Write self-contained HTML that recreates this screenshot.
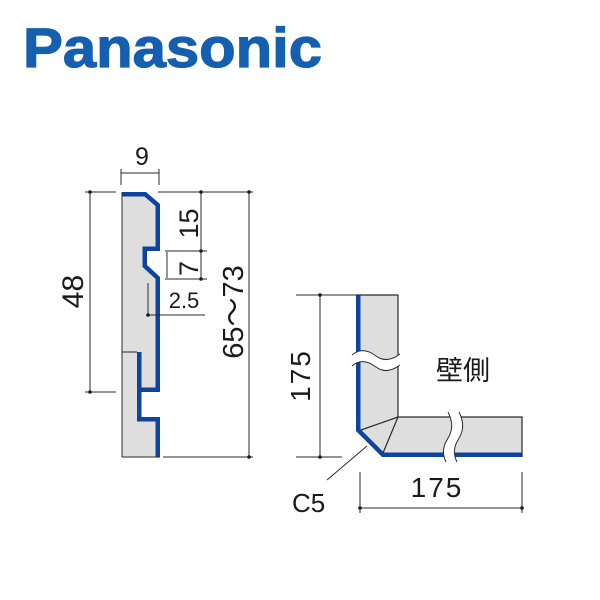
<!DOCTYPE html>
<html><head><meta charset="utf-8"><style>
html,body{margin:0;padding:0;background:#fff;}
svg{display:block;}
text{font-family:"Liberation Sans","Noto Sans CJK JP",sans-serif;fill:#1a1a1a;}
</style></head><body>
<svg width="600" height="600" viewBox="0 0 600 600" xmlns="http://www.w3.org/2000/svg">
<defs>
<clipPath id="cl"><path d="M122,192 L146,192 L160,204 L160,251 L147,251 L147,265 L160,277 L160,392 L141.5,392 L141.5,417 L160,417 L160,457 L122,457 Z"/></clipPath>
<clipPath id="cr"><path d="M356,295 L398,295 L398,417 L522,417 L522,457 L382,457 L356,431 Z"/></clipPath>
</defs>

<!-- Logo -->
<text x="23" y="67" font-size="56" font-weight="bold" textLength="299" lengthAdjust="spacingAndGlyphs" style="fill:#155fb0;stroke:#155fb0;stroke-width:1.2;">Panasonic</text>

<!-- LEFT PROFILE -->
<path d="M122,192 L146,192 L160,204 L160,251 L147,251 L147,265 L160,277 L160,392 L141.5,392 L141.5,417 L160,417 L160,457 L122,457 Z" fill="#dedede"/>
<g clip-path="url(#cl)">
<path d="M120,192 L146,192 L160,204 L160,251 L147,251 L147,265 L160,277 L160,392 L141.5,392 L141.5,417 L160,417 L160,460" fill="none" stroke="#0b459f" stroke-width="9" stroke-linejoin="miter"/>
</g>
<rect x="137" y="352" width="4.5" height="42" fill="#0b459f"/>
<g stroke="#2a2a2a" stroke-width="1" fill="none">
<line x1="122" y1="192" x2="122" y2="457"/>
<line x1="122" y1="457" x2="160" y2="457"/>
<line x1="122" y1="352" x2="137" y2="352"/>
<!-- 9 dim -->
<line x1="121" y1="173" x2="159" y2="173"/>
<line x1="121" y1="169" x2="121" y2="185"/>
<line x1="159" y1="169" x2="159" y2="185"/>
<!-- top ext -->
<line x1="85" y1="192" x2="116" y2="192"/>
<line x1="158" y1="192" x2="253" y2="192"/>
<!-- 48 -->
<line x1="90" y1="192" x2="90" y2="392"/>
<line x1="85" y1="392" x2="116" y2="392"/>
<!-- 15 / 7 -->
<line x1="201" y1="192" x2="201" y2="279"/>
<line x1="165" y1="251" x2="207" y2="251"/>
<line x1="165" y1="279" x2="207" y2="279"/>
<line x1="167" y1="252" x2="167" y2="278"/>
<!-- 2.5 -->
<line x1="148" y1="283" x2="148" y2="315"/>
<line x1="148" y1="315" x2="205" y2="315"/>
<!-- 65~73 -->
<line x1="249" y1="192" x2="249" y2="457"/>
<line x1="163" y1="457" x2="253" y2="457"/>
</g>
<g fill="#1a1a1a">
<circle cx="90" cy="192" r="1.8"/><circle cx="90" cy="392" r="1.8"/>
<circle cx="201" cy="192" r="1.8"/><circle cx="201" cy="251" r="1.8"/><circle cx="201" cy="279" r="1.8"/>
<circle cx="249" cy="192" r="1.8"/><circle cx="249" cy="457" r="1.8"/>
<circle cx="148" cy="315" r="1.8"/>
</g>
<text x="142" y="165" font-size="25" text-anchor="middle">9</text>
<text x="184" y="308" font-size="22" text-anchor="middle">2.5</text>
<text transform="translate(83,291.5) rotate(-90)" font-size="30" text-anchor="middle">48</text>
<text transform="translate(198,223.5) rotate(-90)" font-size="27" text-anchor="middle">15</text>
<text transform="translate(198,268.5) rotate(-90)" font-size="27" text-anchor="middle">7</text>
<text transform="translate(243,312) rotate(-90)" font-size="29" text-anchor="middle">65～73</text>

<!-- RIGHT L PROFILE -->
<path d="M356,295 L398,295 L398,417 L522,417 L522,457 L382,457 L356,431 Z" fill="#dedede"/>
<g clip-path="url(#cr)">
<path d="M356,292 L356,431 L382,457 L525,457" fill="none" stroke="#0b459f" stroke-width="9" stroke-linejoin="miter"/>
</g>
<g stroke="#2a2a2a" stroke-width="1.2" fill="none">
<path d="M356,295 L398,295 L398,417 L522,417 L522,457"/>
<line x1="398" y1="417" x2="361" y2="430"/>
<line x1="398" y1="417" x2="383" y2="453"/>
</g>
<!-- vertical break -->
<path d="M352,355 C360,348 368,350 376,356 C384,362 392,360 400,354 L400,365 C392,371 384,373 376,367 C368,361 360,359 352,366 Z" fill="#fff"/>
<g stroke="#2a2a2a" stroke-width="1" fill="none">
<path d="M352,355 C360,348 368,350 376,356 C384,362 392,360 400,354"/>
<path d="M352,366 C360,359 368,361 376,367 C384,373 392,371 400,365"/>
</g>
<!-- horizontal break -->
<path d="M448,412 C454,424 452,432 447,440 C442,448 443,456 446,462 L457,462 C454,456 453,448 458,440 C463,432 465,424 459,412 Z" fill="#fff"/>
<g stroke="#2a2a2a" stroke-width="1" fill="none">
<path d="M448,412 C454,424 452,432 447,440 C442,448 443,456 446,462"/>
<path d="M459,412 C465,424 463,432 458,440 C453,448 454,456 457,462"/>
</g>
<!-- dims right -->
<g stroke="#2a2a2a" stroke-width="1" fill="none">
<line x1="320" y1="295" x2="320" y2="457"/>
<line x1="296" y1="295" x2="356" y2="295"/>
<line x1="296" y1="457" x2="342" y2="457"/>
<line x1="360" y1="508" x2="522" y2="508"/>
<line x1="360" y1="472" x2="360" y2="513"/>
<line x1="522" y1="472" x2="522" y2="513"/>
<line x1="327" y1="480" x2="367" y2="446"/>
</g>
<g fill="#1a1a1a">
<circle cx="320" cy="295" r="1.8"/><circle cx="320" cy="457" r="1.8"/>
<circle cx="360" cy="508" r="1.8"/><circle cx="522" cy="508" r="1.8"/>
</g>
<text transform="translate(310,375.5) rotate(-90)" font-size="28" text-anchor="middle" letter-spacing="2">175</text>
<text x="437" y="497" font-size="28" text-anchor="middle" letter-spacing="2">175</text>
<text x="292" y="512" font-size="26">C5</text>
<text x="436" y="380" font-size="27">壁側</text>
</svg>
</body></html>
